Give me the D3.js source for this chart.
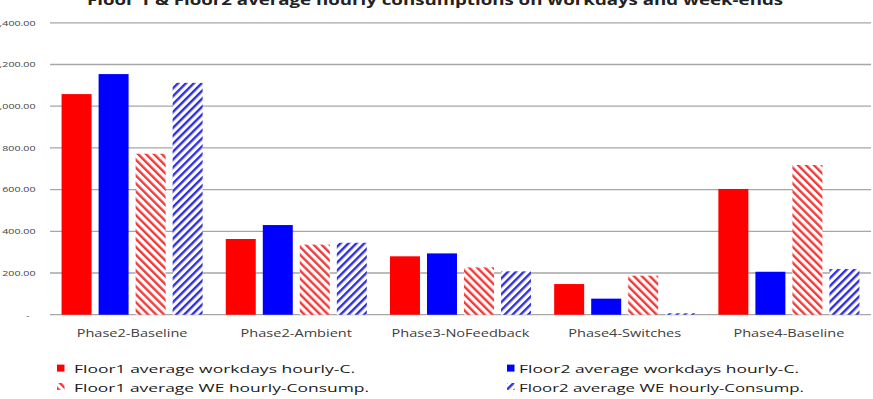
<!DOCTYPE html>
<html>
<head>
<meta charset="utf-8">
<script src="https://cdn.jsdelivr.net/npm/d3@7"></script>
<style>
  body { margin: 0; background: #fff; }
  svg { display: block; }
</style>
</head>
<body>
<div id="chart"></div>
<script>
// values
let categories = ["Phase2-Baseline", "Phase2-Ambient", "Phase3-NoFeedback", "Phase4-Switches", "Phase4-Baseline"];
let seriesNames = ["Floor1 average workdays hourly-C.", "Floor2 average workdays hourly-C.",
                   "Floor1 average WE hourly-Consump.", "Floor2  average WE hourly-Consump."];
let floor1Workdays = [1058, 363, 280, 147, 603];
let floor2Workdays = [1154, 430, 294, 77, 206];
let floor1WE = [772, 336, 227, 187, 718];
let floor2WE = [1112, 345, 208, 7, 219];
let yTicks = [0, 200, 400, 600, 800, 1000, 1200, 1400];

let seriesValues = [floor1Workdays, floor2Workdays, floor1WE, floor2WE];
let seriesFill = ["#ff0000", "#0000ff", "url(#hatchRed)", "url(#hatchBlue)"];

const width = 873, height = 399;
const stretchK = 1.4; // text in the picture is widened horizontally

function stretch(sel, k) {
    sel.each(function () {
        let w = this.getComputedTextLength();
        d3.select(this).attr("textLength", w * k).attr("lengthAdjust", "spacingAndGlyphs");
    });
}

let svg = d3.select("#chart").append("svg")
    .attr("width", width)
    .attr("height", height);

svg.append("rect").attr("width", width).attr("height", height).attr("fill", "#fff");

let defs = svg.append("defs");
function hatch(id, color, angle) {
    let p = defs.append("pattern")
        .attr("id", id)
        .attr("patternUnits", "userSpaceOnUse")
        .attr("width", 5.6)
        .attr("height", 5.6)
        .attr("patternTransform", "rotate(" + angle + ")");
    p.append("rect").attr("width", 5.6).attr("height", 5.6).attr("fill", "#fff");
    p.append("rect").attr("width", 2.4).attr("height", 5.6).attr("fill", color);
}
hatch("hatchRed", "#f03a3a", -45);
hatch("hatchBlue", "#2f2fe0", 45);

let x0 = d3.scaleBand()
    .domain(categories)
    .range([50, 871])
    .paddingInner(0.141)
    .paddingOuter(0.0705);

let x1 = d3.scaleBand()
    .domain(d3.range(seriesNames.length))
    .range([0, x0.bandwidth()])
    .paddingInner(0.19);

let y = d3.scaleLinear()
    .domain([0, 1400])
    .range([314.7, 22.8]);

// gridlines
svg.append("g")
    .selectAll("line")
    .data(yTicks)
    .enter()
    .append("line")
    .attr("x1", 50)
    .attr("x2", 871)
    .attr("y1", d => y(d))
    .attr("y2", d => y(d))
    .attr("stroke", "#a6a6a6")
    .attr("stroke-width", 1.3);

// y labels, accounting style
let fmt = d3.format(",.2f");
let yLabels = svg.append("g")
    .selectAll("text")
    .data(yTicks)
    .enter()
    .append("text")
    .attr("x", d => d === 0 ? 29.5 : 35.5)
    .attr("y", d => y(d) + 2.8)
    .attr("text-anchor", "end")
    .attr("font-family", "Open Sans")
    .attr("font-size", 7.6)
    .attr("fill", "#444")
    .text(d => d === 0 ? "-" : fmt(d));
stretch(yLabels, stretchK);

// bars
let groups = svg.append("g")
    .selectAll("g")
    .data(categories)
    .enter()
    .append("g")
    .attr("transform", d => "translate(" + x0(d) + ",0)");

groups.selectAll("rect")
    .data((d, i) => seriesValues.map((s, j) => ({ series: j, value: s[i] })))
    .enter()
    .append("rect")
    .attr("x", d => x1(d.series))
    .attr("y", d => y(d.value))
    .attr("width", x1.bandwidth())
    .attr("height", d => y(0) - y(d.value))
    .attr("fill", d => seriesFill[d.series]);

// category labels
let catLabels = svg.append("g")
    .selectAll("text")
    .data(categories)
    .enter()
    .append("text")
    .attr("x", d => x0(d) + x0.bandwidth() / 2)
    .attr("y", 336.5)
    .attr("text-anchor", "middle")
    .attr("font-family", "Open Sans")
    .attr("font-size", 10.4)
    .attr("fill", "#404040")
    .text(d => d);
stretch(catLabels, stretchK);

// title (cut off at the top in the picture)
svg.append("text")
    .attr("x", 87)
    .attr("y", 4.6)
    .attr("font-family", "Open Sans")
    .attr("font-weight", "bold")
    .attr("font-size", 13.5)
    .attr("fill", "#222")
    .attr("textLength", 696)
    .attr("lengthAdjust", "spacingAndGlyphs")
    .text("Floor 1 & Floor2 average hourly consumptions on workdays and week-ends");

// legend
let legendPos = [
    { sx: 57, tx: 74, ty: 373.2, w: 281 },
    { sx: 507, tx: 519, ty: 373.2, w: 280 },
    { sx: 57, tx: 74, ty: 391.6, w: 295 },
    { sx: 507, tx: 519, ty: 391.6, w: 285 }
];
let legend = svg.append("g")
    .selectAll("g")
    .data(seriesNames)
    .enter()
    .append("g");

legend.append("rect")
    .attr("x", (d, i) => legendPos[i].sx)
    .attr("y", (d, i) => legendPos[i].ty - 8.6)
    .attr("width", 7.5)
    .attr("height", 7)
    .attr("fill", (d, i) => seriesFill[i]);

legend.append("text")
    .attr("x", (d, i) => legendPos[i].tx)
    .attr("y", (d, i) => legendPos[i].ty)
    .attr("font-family", "Open Sans")
    .attr("font-size", 11.6)
    .attr("fill", "#1a1a1a")
    .attr("textLength", (d, i) => legendPos[i].w)
    .attr("lengthAdjust", "spacingAndGlyphs")
    .text(d => d);
</script>
</body>
</html>
